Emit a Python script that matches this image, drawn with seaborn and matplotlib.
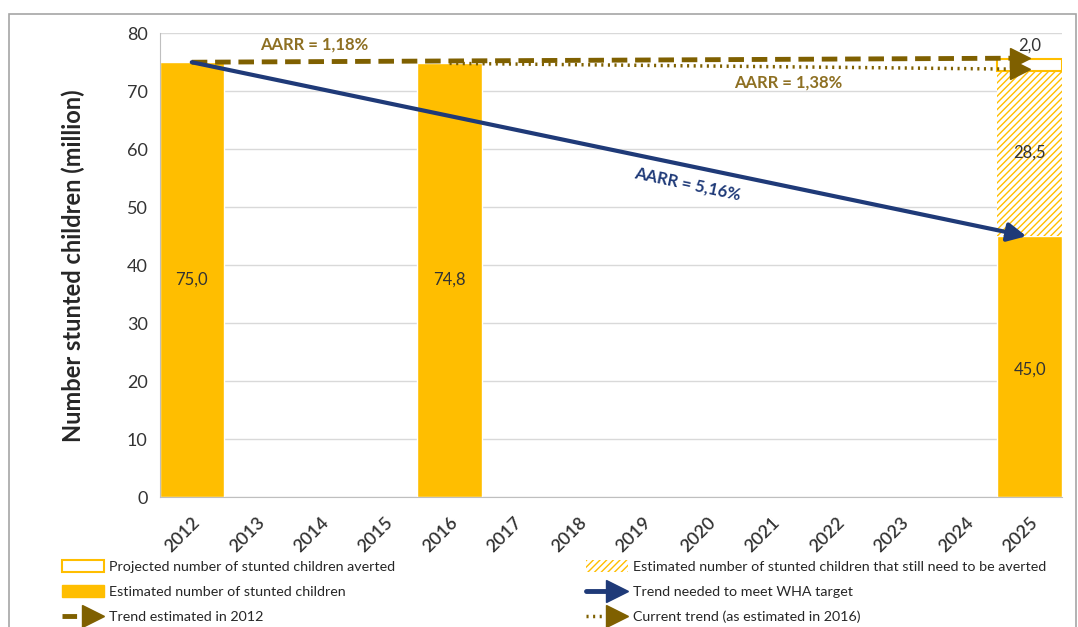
import numpy as np
import pandas as pd
import matplotlib
matplotlib.use("Agg")
import matplotlib.pyplot as plt
import seaborn as sns
from matplotlib.lines import Line2D
from matplotlib.patches import Patch, Rectangle
from matplotlib.legend_handler import HandlerBase

# data
years = [str(y) for y in range(2012, 2026)]
estimated = {"2012": 75.0, "2016": 74.8, "2025": 45.0}
still_needed_2025 = 28.5
averted_2025 = 2.0
trend_2012 = [("2012", 75.0), ("2025", 75.7)]
trend_current = [("2016", 74.8), ("2025", 73.8)]
trend_wha = [("2012", 75.0), ("2025", 45.0)]
aarr_labels = ["AARR = 1,18%", "AARR = 1,38%", "AARR = 5,16%"]

YELLOW = "#FFBE00"
BROWN = "#7F6000"
BROWN_TXT = "#8E7023"
NAVY = "#1F3A78"

df = pd.DataFrame({"year": years,
                   "value": [estimated.get(y, np.nan) for y in years]})

sns.set_style("white")
plt.rcParams["font.family"] = ["Lato", "DejaVu Sans"]

fig = plt.figure(figsize=(10.78, 6.27), dpi=100)
ax = fig.add_axes([0.148, 0.207, 0.837, 0.740])

sns.barplot(data=df, x="year", y="value", order=years, color=YELLOW,
            saturation=1, width=1.0, ax=ax, zorder=2)

pos = {y: i for i, y in enumerate(years)}
i25 = pos["2025"]
ax.bar(i25, still_needed_2025, bottom=estimated["2025"], width=1.0,
       facecolor="white", edgecolor=YELLOW, hatch="/////", linewidth=0, zorder=2)
ax.bar(i25, averted_2025, bottom=estimated["2025"] + still_needed_2025, width=1.0,
       facecolor="white", edgecolor=YELLOW, linewidth=1.5, zorder=2)

# trend lines
x0, y0 = pos[trend_2012[0][0]], trend_2012[0][1]
x1, y1 = pos[trend_2012[1][0]] - 0.15, trend_2012[1][1]
ax.plot([x0, x1], [y0, y1], color=BROWN, lw=3.5, dashes=(3.2, 1.6), zorder=4)
ax.plot([x1], [y1], marker=">", color=BROWN, ms=15, zorder=5)

x0, y0 = pos[trend_current[0][0]], trend_current[0][1]
x1, y1 = pos[trend_current[1][0]] - 0.15, trend_current[1][1]
ax.plot([x0, x1], [y0, y1], color=BROWN, lw=2.5, dashes=(0.6, 1.3), zorder=4)
ax.plot([x1], [y1], marker=">", color=BROWN, ms=15, zorder=5)

ax.annotate("", xy=(pos[trend_wha[1][0]] - 0.05, trend_wha[1][1]),
            xytext=(pos[trend_wha[0][0]], trend_wha[0][1]),
            arrowprops=dict(arrowstyle="-|>", color=NAVY, lw=3,
                            mutation_scale=28, shrinkA=0, shrinkB=0), zorder=6)

ax.text(1.9, 78.0, aarr_labels[0], color=BROWN_TXT, fontsize=12, fontweight="bold",
        ha="center", va="center")
ax.text(9.25, 71.5, aarr_labels[1], color=BROWN_TXT, fontsize=12, fontweight="bold",
        ha="center", va="center")
ax.text(7.7, 54.0, aarr_labels[2], color=NAVY, fontsize=12, fontweight="bold",
        ha="center", va="center", rotation=-12)

# value labels
ax.text(pos["2012"], 37.5, "75,0", ha="center", va="center", fontsize=12, color="#333333")
ax.text(pos["2016"], 37.5, "74,8", ha="center", va="center", fontsize=12, color="#333333")
ax.text(i25, 22.0, "45,0", ha="center", va="center", fontsize=12, color="#333333")
ax.text(i25, 59.5, "28,5", ha="center", va="center", fontsize=12, color="#333333")
ax.text(i25, 77.8, "2,0", ha="center", va="center", fontsize=12, color="#333333")

# axes styling
ax.set_xlim(-0.5, len(years) - 0.5)
ax.set_ylim(0, 80)
ax.set_yticks(range(0, 81, 10))
ax.yaxis.grid(True, color="#D9D9D9", lw=1)
ax.set_axisbelow(True)
ax.set_xlabel("")
ax.set_ylabel("Number stunted children (million)", fontsize=17, fontweight="bold",
              labelpad=30)
ax.set_xticks(range(len(years)))
ax.set_xticklabels(years, rotation=45, ha="right", rotation_mode="anchor",
                   fontsize=13, fontweight="semibold", color="#333333")
ax.set_xticks(np.arange(-0.5, len(years)), minor=True)
ax.tick_params(axis="x", which="major", length=0, pad=12)
ax.tick_params(axis="x", which="minor", length=5, color="#BFBFBF")
ax.tick_params(axis="y", length=5, color="#BFBFBF", labelsize=13, labelcolor="#333333")
for s in ["top", "right"]:
    ax.spines[s].set_visible(False)
for s in ["left", "bottom"]:
    ax.spines[s].set_color("#BFBFBF")


class ArrowLineHandler(HandlerBase):
    def __init__(self, style, lw):
        super().__init__()
        self.style = style
        self.lw = lw

    def create_artists(self, legend, orig_handle, xdescent, ydescent,
                       width, height, fontsize, trans):
        ym = height / 2 - ydescent
        line = Line2D([-xdescent, width * 0.5], [ym, ym], color=orig_handle.get_color(),
                      lw=self.lw, linestyle=self.style, transform=trans)
        head = Line2D([width * 0.72], [ym], marker=">", ms=16, color=orig_handle.get_color(),
                      linestyle="none", transform=trans)
        return [line, head]


h_avert = Patch(facecolor="white", edgecolor=YELLOW, lw=1.5)
h_est = Patch(facecolor=YELLOW, edgecolor=YELLOW)
h_need = Patch(facecolor="white", edgecolor=YELLOW, hatch="/////", lw=0)
h_2012 = Line2D([], [], color=BROWN)
h_wha = Line2D([], [], color=NAVY)
h_cur = Line2D([], [], color=BROWN)
handles = [h_avert, h_est, h_2012, h_need, h_wha, h_cur]
labels = ["Projected number of stunted children averted",
          "Estimated number of stunted children",
          "Trend estimated in 2012",
          "Estimated number of stunted children that still need to be averted",
          "Trend needed to meet WHA target",
          "Current trend (as estimated in 2016)"]
fig.legend(handles, labels, loc="lower left", bbox_to_anchor=(0.046, -0.014), ncol=2,
           frameon=False, fontsize=10.3, handlelength=2.93, handleheight=0.9,
           columnspacing=13.4, labelspacing=0.85, handletextpad=0.3,
           labelcolor="#262626",
           handler_map={h_2012: ArrowLineHandler((0, (3, 1.6)), 3.5),
                        h_wha: ArrowLineHandler("-", 3.5),
                        h_cur: ArrowLineHandler((0, (0.6, 1.3)), 2.5)})

fig.add_artist(Rectangle((0.008, -0.01), 0.99, 0.987, transform=fig.transFigure,
                         fill=False, edgecolor="#A6A6A6", lw=1.2))

fig.savefig("out.png", dpi=100)
